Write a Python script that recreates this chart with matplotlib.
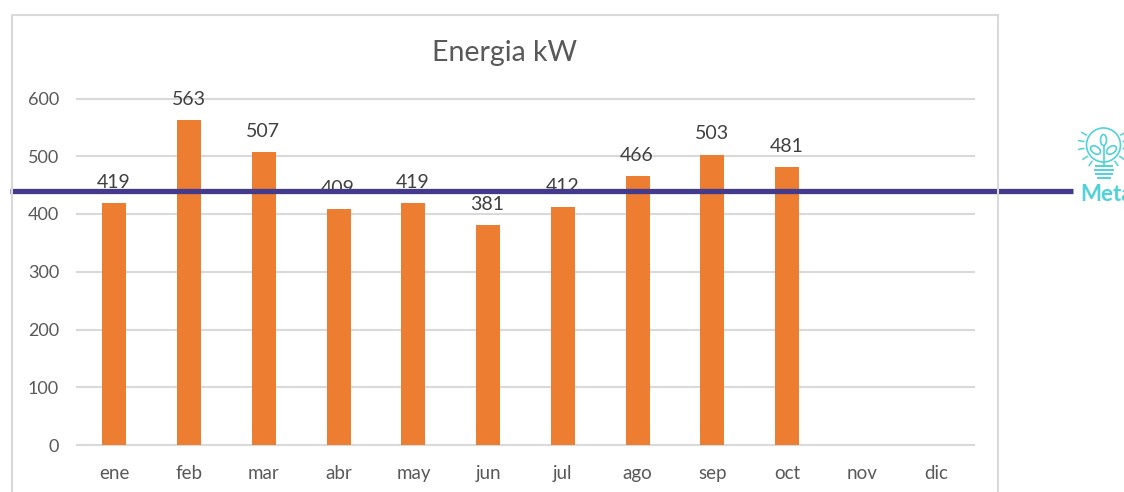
import matplotlib
matplotlib.use("Agg")
import matplotlib.pyplot as plt
import numpy as np
from matplotlib.lines import Line2D
from matplotlib.patches import Circle, Ellipse

plt.rcParams['font.family'] = ['Lato', 'DejaVu Sans']

months = ['ene', 'feb', 'mar', 'abr', 'may', 'jun', 'jul', 'ago', 'sep', 'oct', 'nov', 'dic']
energy = [419, 563, 507, 409, 419, 381, 412, 466, 503, 481]
yticks = [0, 100, 200, 300, 400, 500, 600]
meta_value = 439

W, H = 1124, 492
TEAL = '#4fd2d8'

fig = plt.figure(figsize=(W / 100, H / 100), dpi=100, facecolor='white')
ax = fig.add_axes([77 / W, 1 - 445 / H, 897 / W, 346.5 / H])

# ---------- chart frame (open at the bottom) ----------
fx = [12 / W, 12 / W, 998 / W, 998 / W]
fy = [0, 1 - 15 / H, 1 - 15 / H, 0]
fig.add_artist(Line2D(fx, fy, color='#d9d9d9', lw=1.5))

# ---------- bars ----------
x = np.arange(len(energy))
bars = ax.bar(x, energy, width=0.32, color='#ED7D31', zorder=2)
for xi, v in zip(x, energy):
    ax.annotate(str(v), (xi, v), xytext=(-0.4, 14.8), textcoords='offset points',
                ha='center', va='center', fontsize=14, color='#404040', zorder=3)

ax.set_xlim(-0.5, 11.5)
ax.set_ylim(0, 600)
ax.set_xticks(np.arange(len(months)))
ax.set_xticklabels(months, fontsize=13.5, color='#595959')
ax.set_yticks(yticks)
ax.set_yticklabels([str(t) for t in yticks], fontsize=13, color='#595959')
ax.tick_params(axis='both', length=0)
ax.tick_params(axis='y', pad=13)
ax.tick_params(axis='x', pad=14.5)
ax.grid(axis='y', color='#d9d9d9', lw=1.5, zorder=1)
for gl in ax.get_ygridlines():
    gl.set_clip_on(False)
ax.set_axisbelow(True)
for s in ax.spines.values():
    s.set_visible(False)

# ---------- title ----------
fig.text(504.5 / W, 1 - 53 / H, 'Energia kW', ha='center', va='center',
         fontsize=20.5, color='#595959')

# ---------- meta line ----------
ax.axhline(meta_value, xmin=(10 - 77) / 897, xmax=(1073 - 77) / 897,
           color='#443a8c', lw=3.8, clip_on=False, zorder=5,
           solid_capstyle='butt')

# ---------- meta icon (bulb) ----------
icon = fig.add_axes([1072 / W, 1 - 185 / H, 52 / W, 60 / H])
icon.set_xlim(1072, 1124)
icon.set_ylim(185, 125)
icon.axis('off')
cx, cy = 1103.5, 145
icon.add_patch(Circle((cx, cy), 17, fill=False, ec=TEAL, lw=1.2))
for a in np.deg2rad([150, 170, 190, 215, 235, 305, 325, 350, 10, 30]):
    icon.plot([cx + 20 * np.cos(a), cx + 25 * np.cos(a)],
              [cy - 20 * np.sin(a), cy - 25 * np.sin(a)], color=TEAL, lw=1.1)
icon.add_patch(Ellipse((cx, 140), 6, 11, fill=False, ec=TEAL, lw=1.2))
icon.add_patch(Ellipse((cx - 8, 150), 11, 7, angle=35, fill=False, ec=TEAL, lw=1.2))
icon.add_patch(Ellipse((cx + 8, 150), 11, 7, angle=-35, fill=False, ec=TEAL, lw=1.2))
icon.plot([cx, cx], [146, 166], color=TEAL, lw=1.2)
for yy, hw in [(166, 8), (170, 9), (174, 8), (178, 6)]:
    icon.plot([cx - hw, cx + hw], [yy, yy], color=TEAL, lw=1.4)

# the reference cuts this word off at the picture's right edge
fig.text(1080 / W, 1 - 194.5 / H, 'Meta', ha='left', va='center', fontsize=16,
         fontweight='bold', color=TEAL)

fig.savefig('out.png', dpi=100)
